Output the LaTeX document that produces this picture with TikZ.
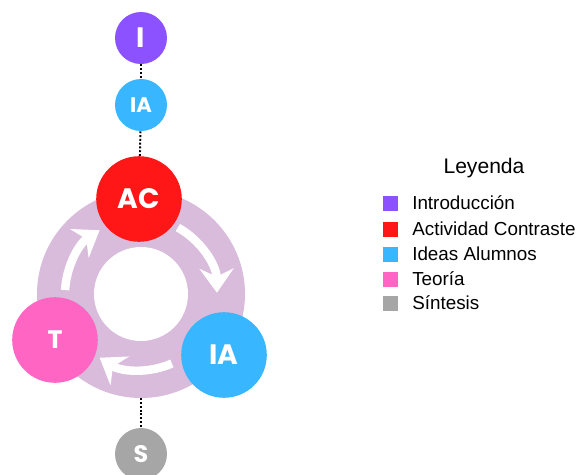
\documentclass[tikz,border=0pt]{standalone}
\usepackage{fontspec}
\setmainfont{Liberation Sans}
\newfontfamily\circfont{Poppins}
\usetikzlibrary{arrows.meta}
\definecolor{intro}{HTML}{8C52FF}
\definecolor{contraste}{HTML}{FF1616}
\definecolor{ideas}{HTML}{38B6FF}
\definecolor{teoria}{HTML}{FF66C4}
\definecolor{sintesis}{HTML}{A6A6A6}
\definecolor{anillo}{HTML}{D9BBDC}
\tikzset{
  stage/.style={circle, inner sep=0pt, text=white},
  small/.style={stage, minimum size=1.3cm},
  big/.style={stage, minimum size=2.14cm},
  link/.style={line width=1.4pt, dash pattern=on 1.4pt off 1.3pt},
  cyc/.style={white, line width=6pt, -{Stealth[length=0.6cm,width=0.85cm,inset=0.2cm]}},
  key/.style={minimum size=0.375cm, inner sep=0pt},
  item/.style={anchor=west, inner sep=0pt, font=\fontsize{13.4}{15}\selectfont}
}
\begin{document}
\begin{tikzpicture}
      \useasboundingbox (-3.525,-4.5) rectangle (11.0,7.35);
      \node[circle, fill=anillo, minimum size=5.2cm] (ring) at (0,0) {};
      \node[circle, fill=white, minimum size=2.35cm] (hole) at (0,0) {};
      \draw[cyc] (177:1.9) arc[start angle=177, end angle=123, radius=1.9];
      \draw[cyc] (61:1.9) arc[start angle=61, end angle=1, radius=1.9];
      \draw[cyc] (-66:1.9) arc[start angle=-66, end angle=-123, radius=1.9];
      \draw
        (0,6.4) node[small, fill=intro, font=\circfont\bfseries\fontsize{20}{20}\selectfont] (I){I}
        (0,4.725) node[small, fill=ideas, font=\circfont\bfseries\fontsize{15}{15}\selectfont] (IA1){IA}
        (-0.05,2.375) node[big, fill=contraste, font=\circfont\bfseries\fontsize{20}{20}\selectfont] (AC){AC}
        (2.075,-1.525) node[big, fill=ideas, font=\circfont\bfseries\fontsize{20}{20}\selectfont] (IA2){IA}
        (-2.15,-1.15) node[big, fill=teoria, font=\circfont\bfseries\fontsize{18}{18}\selectfont] (T){T}
        (0,-4.0) node[small, fill=sintesis, font=\circfont\bfseries\fontsize{17}{17}\selectfont] (S){S};
      \begin{scope}[link]
        \draw (I) to (IA1);
        \draw (IA1) to (AC);
        \draw (ring) to (S);
      \end{scope}
      \node[font=\fontsize{15}{17}\selectfont] (leyenda) at (8.575,3.15) {Leyenda};
      \node[key, fill=intro] (k1) at (6.24,2.275) {};
      \node[key, fill=contraste] (k2) at (6.24,1.625) {};
      \node[key, fill=ideas] (k3) at (6.24,1.0) {};
      \node[key, fill=teoria] (k4) at (6.24,0.375) {};
      \node[key, fill=sintesis] (k5) at (6.24,-0.225) {};
      \node[item] (t1) at (6.775,2.275) {Introducción};
      \node[item] (t2) at (6.775,1.625) {Actividad Contraste};
      \node[item] (t3) at (6.775,1.0) {Ideas Alumnos};
      \node[item] (t4) at (6.775,0.375) {Teoría};
      \node[item] (t5) at (6.775,-0.225) {Síntesis};
    \end{tikzpicture}
\end{document}
